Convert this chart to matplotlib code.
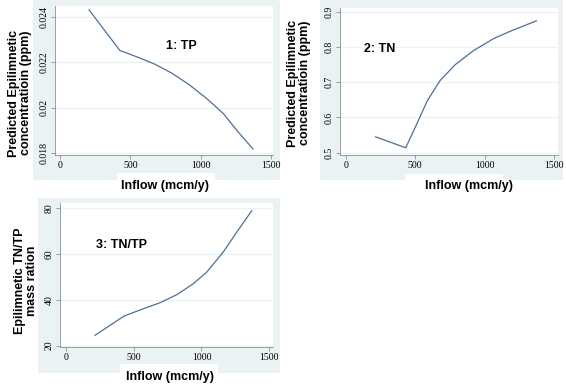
import matplotlib
matplotlib.use('Agg')
import matplotlib.pyplot as plt
from matplotlib.patches import Rectangle

# data
tp_inflow = [206, 425, 553, 675, 796, 917, 1039, 1160, 1257, 1371]
tp_conc = [0.02433, 0.02253, 0.02223, 0.02192, 0.02152, 0.02102, 0.02042,
           0.01974, 0.01899, 0.01817]

tn_inflow = [215, 432, 511, 588, 680, 789, 921, 1066, 1187, 1372]
tn_conc = [0.545, 0.514, 0.581, 0.648, 0.705, 0.750, 0.790, 0.824, 0.845, 0.874]

ratio_inflow = [216, 430, 572, 695, 818, 940, 1038, 1159, 1259, 1370]
ratio_vals = [24.5, 32.9, 36.1, 38.7, 42.2, 47.0, 52.0, 60.7, 69.4, 78.8]

x_ticks = [0, 500, 1000, 1500]
tp_ticks = [0.018, 0.02, 0.022, 0.024]
tp_ticklabels = ['0.018', '0.02', '0.022', '0.024']
tn_ticks = [0.5, 0.6, 0.7, 0.8, 0.9]
ratio_ticks = [20, 40, 60, 80]

W, H = 566, 390
BG = '#eaf2f3'
LINE = '#4d7096'
AX = '#8a8f94'

fig = plt.figure(figsize=(W / 100, H / 100), dpi=100)


def box(x0, y0, x1, y1):
    # pixel box (top-left origin) -> figure fraction
    return [x0 / W, 1 - y1 / H, (x1 - x0) / W, (y1 - y0) / H]


def rect(x0, y0, x1, y1, color):
    l, b, w, h = box(x0, y0, x1, y1)
    fig.patches.append(Rectangle((l, b), w, h, transform=fig.transFigure,
                                 facecolor=color, edgecolor='none', zorder=-5))


def panel(pos, x, y, yticks, ylabels, ylim, xlim, title, title_xy):
    ax = fig.add_axes(box(*pos))
    ax.plot(x, y, color=LINE, lw=0.9)
    ax.set_xlim(*xlim)
    ax.set_ylim(*ylim)
    ax.set_xticks(x_ticks)
    ax.set_yticks(yticks)
    ax.set_yticklabels(ylabels, rotation=90, va='center')
    for lab in ax.get_xticklabels() + ax.get_yticklabels():
        lab.set_family('Liberation Serif')
        lab.set_fontsize(7)
    ax.tick_params(length=3, width=0.6, color=AX, pad=1.5)
    ax.grid(axis='y', color=BG, lw=0.9)
    ax.set_axisbelow(True)
    for s in ['top', 'right']:
        ax.spines[s].set_visible(False)
    for s in ['left', 'bottom']:
        ax.spines[s].set_color(AX)
        ax.spines[s].set_linewidth(0.6)
    ax.text(title_xy[0], title_xy[1], title, transform=ax.transAxes,
            fontsize=9, fontweight='bold', family='Liberation Sans',
            ha='center', va='center')
    return ax


def label_x(xc, yc):
    fig.text(xc / W, 1 - yc / H, 'Inflow (mcm/y)', fontsize=9, fontweight='bold',
             family='Liberation Sans', ha='center', va='center')


def label_y(xc, yc, txt):
    fig.text(xc / W, 1 - yc / H, txt, fontsize=9, fontweight='bold',
             family='Liberation Sans', ha='center', va='center', rotation=90,
             linespacing=1.05, multialignment='center')


# gray panel regions and white notches for the x labels
rect(33, 0, 280, 180, BG)
rect(117, 173, 215, 181, 'white')
rect(320, 0, 563, 180, BG)
rect(405, 174, 503, 181, 'white')
rect(38, 198, 280, 373, BG)
rect(120, 364, 218, 374, 'white')

ax1 = panel((55, 6, 273, 155), tp_inflow, tp_conc, tp_ticks, tp_ticklabels,
            (0.0179, 0.0245), (-36, 1514), '1: TP', (0.58, 0.73))
ax2 = panel((340, 8, 558, 155), tn_inflow, tn_conc, tn_ticks,
            ['0.5', '0.6', '0.7', '0.8', '0.9'], (0.4935, 0.9105), (-41, 1528),
            '2: TN', (0.18, 0.72))
ax3 = panel((60, 203, 273, 347), ratio_inflow, ratio_vals, ratio_ticks,
            ['20', '40', '60', '80'], (19.4, 82.2), (-42, 1527),
            '3: TN/TP', (0.29, 0.71))

label_x(165, 186)
label_x(469, 186)
label_x(170, 377)
label_y(20, 93, 'Predicted Epilimnetic\nconcentratioin (ppm)')
label_y(299, 83, 'Predicted Epilimnetic\nconcentratioin (ppm)')
label_y(26, 281, 'Epilimnetic TN/TP\nmass ration')

fig.savefig('out.png', dpi=100)
